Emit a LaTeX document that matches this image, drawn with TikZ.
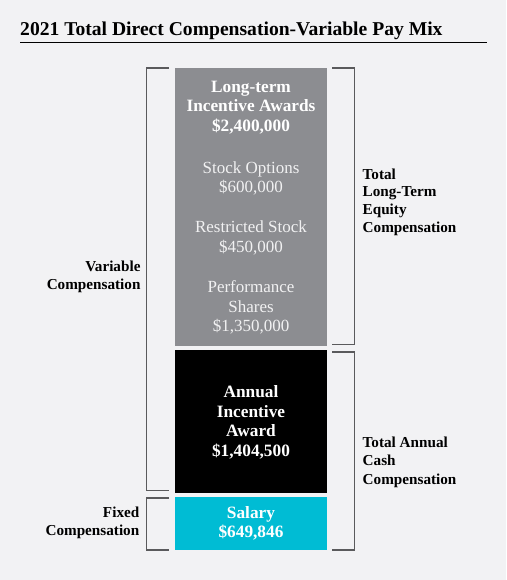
\documentclass[tikz,border=0pt]{standalone}
\usepackage{fontspec}
\setmainfont{Liberation Serif}
\definecolor{bgc}{HTML}{F2F2F4}
\definecolor{ltgray}{HTML}{8C8D91}
\definecolor{cyanbox}{HTML}{00BCD4}
\definecolor{brk}{HTML}{5A5A5C}
\tikzset{
  boxst/.style={anchor=north west, inner sep=0pt, outer sep=0pt},
  boldw/.style={anchor=base, inner sep=0pt, text=white, font=\bfseries\fontsize{17.3}{19}\selectfont},
  regw/.style={anchor=base, inner sep=0pt, text=white!88!ltgray, font=\fontsize{17}{19}\selectfont},
  lab/.style={inner sep=0pt, text=black, font=\bfseries\fontsize{15.2}{18}\selectfont},
  labr/.style={lab, anchor=base west},
  labl/.style={lab, anchor=base east},
  brack/.style={draw=brk, line width=1.3pt}
}
\begin{document}
\begin{tikzpicture}[x=1pt,y=-1pt]
\fill[bgc] (0,0) rectangle (506,580);
\useasboundingbox (0,0) rectangle (506,580);
% title
\node[anchor=base west, inner sep=0pt, font=\bfseries\fontsize{19.6}{22}\selectfont] (title) at (20,36) {2021 Total Direct Compensation-Variable Pay Mix};
\coordinate (rl) at (20,42.5);
\coordinate (rr) at (487,42.5);
\draw[line width=1pt] (rl) -- (rr);
% boxes
\node[boxst, fill=ltgray, minimum width=152pt, minimum height=278pt] (lti) at (175,68) {};
\node[boxst, fill=black, minimum width=152pt, minimum height=143pt] (aia) at (175,350) {};
\node[boxst, fill=cyanbox, minimum width=152pt, minimum height=53pt] (sal) at (175,497) {};
% gray box text
\node[boldw] (l1) at (251,92.3) {Long-term};
\node[boldw] (l2) at (251,112) {Incentive Awards};
\node[boldw] (l3) at (251,131.7) {\$2,400,000};
\node[regw] (s1) at (251,173.3) {Stock Options};
\node[regw] (s2) at (251,192.5) {\$600,000};
\node[regw] (r1) at (251,232.7) {Restricted Stock};
\node[regw] (r2) at (251,252.3) {\$450,000};
\node[regw] (p1) at (251,292.7) {Performance};
\node[regw] (p2) at (251,312.3) {Shares};
\node[regw] (p3) at (251,331.7) {\$1,350,000};
% black box text
\node[boldw] (a1) at (251,397.7) {Annual};
\node[boldw] (a2) at (251,417.3) {Incentive};
\node[boldw] (a3) at (251,436.7) {Award};
\node[boldw] (a4) at (251,456) {\$1,404,500};
% cyan box text
\node[boldw] (c1) at (251,518.3) {Salary};
\node[boldw] (c2) at (251,537.7) {\$649,846};
% brackets
\coordinate (vb1) at (169,68); \coordinate (vb2) at (146.5,68);
\coordinate (vb3) at (146.5,490.5); \coordinate (vb4) at (169,490.5);
\draw[brack] (vb1) -- (vb2) -- (vb3) -- (vb4);
\coordinate (fb1) at (169,498); \coordinate (fb2) at (146.5,498);
\coordinate (fb3) at (146.5,550); \coordinate (fb4) at (169,550);
\draw[brack] (fb1) -- (fb2) -- (fb3) -- (fb4);
\coordinate (tb1) at (332,68); \coordinate (tb2) at (354.5,68);
\coordinate (tb3) at (354.5,344.5); \coordinate (tb4) at (332,344.5);
\draw[brack] (tb1) -- (tb2) -- (tb3) -- (tb4);
\coordinate (cb1) at (332,352); \coordinate (cb2) at (354.5,352);
\coordinate (cb3) at (354.5,550); \coordinate (cb4) at (332,550);
\draw[brack] (cb1) -- (cb2) -- (cb3) -- (cb4);
% labels
\node[labl] (v1) at (140.7,271.7) {Variable};
\node[labl] (v2) at (140.7,289.3) {Compensation};
\node[labl] (f1) at (139.5,517.3) {Fixed};
\node[labl] (f2) at (139.5,535.7) {Compensation};
\node[labr] (t1) at (362.5,179) {Total};
\node[labr] (t2) at (362.5,196.7) {Long-Term};
\node[labr] (t3) at (362.5,214.3) {Equity};
\node[labr] (t4) at (362.5,232.3) {Compensation};
\node[labr] (k1) at (362.5,447.3) {Total Annual};
\node[labr] (k2) at (362.5,465.7) {Cash};
\node[labr] (k3) at (362.5,484) {Compensation};
\end{tikzpicture}
\end{document}
